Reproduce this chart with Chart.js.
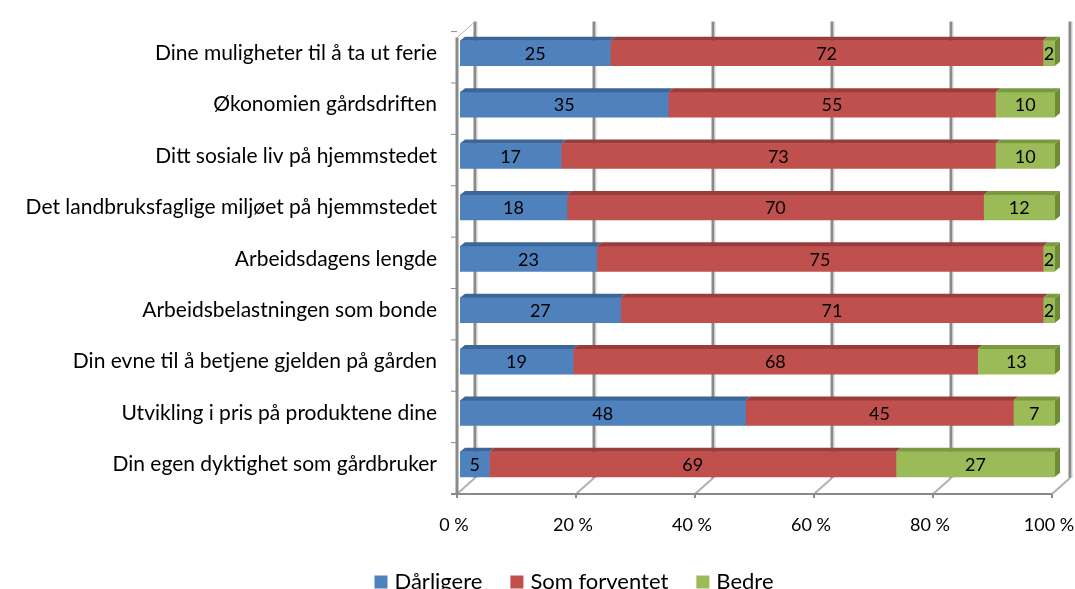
<!DOCTYPE html>
<html>
<head>
<meta charset="utf-8">
<script src="https://cdn.jsdelivr.net/npm/chart.js@4"></script>
<style>
  html, body { margin: 0; padding: 0; background: #fff; }
  #wrap { width: 1075px; height: 589px; position: relative; }
</style>
</head>
<body>
<div id="wrap"><canvas id="chart" width="1075" height="589"></canvas></div>
<script>
const categories = [
  'Dine muligheter til å ta ut ferie',
  'Økonomien gårdsdriften',
  'Ditt sosiale liv på hjemmstedet',
  'Det landbruksfaglige miljøet på hjemmstedet',
  'Arbeidsdagens lengde',
  'Arbeidsbelastningen som bonde',
  'Din evne til å betjene gjelden på gården',
  'Utvikling i pris på produktene dine',
  'Din egen dyktighet som gårdbruker'
];
const seriesNames = ['Dårligere', 'Som forventet', 'Bedre'];
const darligere = [25, 35, 17, 18, 23, 27, 19, 48, 5];
const somForventet = [72, 55, 73, 70, 75, 71, 68, 45, 69];
const bedre = [2, 10, 10, 12, 2, 2, 13, 7, 27];
const xTicks = [0, 20, 40, 60, 80, 100];

const fontFamily = 'Lato, "Open Sans", sans-serif';
const colors = ['#4F81BD', '#C0504D', '#9BBB59'];
const topColors = ['#3B6699', '#9A3D3A', '#7A9A3F'];
const sideColors = ['#37608F', '#8E3836', '#6E8C38'];

// 100% stacking: turn the raw values into shares of each row
const rowTotals = categories.map((c, i) => darligere[i] + somForventet[i] + bedre[i]);
const toShare = arr => arr.map((v, i) => v / rowTotals[i] * 100);
const rawSeries = [darligere, somForventet, bedre];

const DX = 15, DY = -16;   // depth of the back wall
const BX = 5, BY = -4;     // depth of the bars
const FX = -3;             // front axis sits a little left of the bars

const depthPlugin = {
  id: 'depth3d',
  beforeDatasetsDraw(chart) {
    const ctx = chart.ctx;
    const x = chart.scales.x;
    const y = chart.scales.y;
    const area = chart.chartArea;
    const floorY = area.bottom + 4;
    const topY = area.top - 6;
    ctx.save();
    // back wall gridlines + floor diagonals
    xTicks.forEach(t => {
      const px = x.getPixelForValue(t);
      ctx.strokeStyle = '#8a8a8a';
      ctx.lineWidth = 3;
      ctx.beginPath();
      ctx.moveTo(px + DX, topY);
      ctx.lineTo(px + DX, floorY + DY);
      ctx.stroke();
      ctx.strokeStyle = '#d0d0d0';
      ctx.lineWidth = 1;
      ctx.beginPath();
      ctx.moveTo(px + DX + 2, topY);
      ctx.lineTo(px + DX + 2, floorY + DY);
      ctx.stroke();
      ctx.strokeStyle = '#b0b0b0';
      ctx.lineWidth = 2;
      ctx.beginPath();
      ctx.moveTo(px + FX, floorY);
      ctx.lineTo(px + DX, floorY + DY);
      ctx.stroke();
    });
    // left wall
    const lx = x.getPixelForValue(0) + FX;
    ctx.strokeStyle = '#8a8a8a';
    ctx.lineWidth = 3;
    ctx.beginPath();
    ctx.moveTo(lx, topY - DY);
    ctx.lineTo(lx, floorY);
    ctx.stroke();
    ctx.lineWidth = 1;
    ctx.strokeStyle = '#b0b0b0';
    ctx.beginPath();
    ctx.moveTo(lx, topY - DY);
    ctx.lineTo(lx - FX + DX, topY);
    ctx.stroke();
    // category separators on the left wall
    const step = y.getPixelForValue(1) - y.getPixelForValue(0);
    ctx.strokeStyle = '#8a8a8a';
    ctx.lineWidth = 1;
    for (let i = 0; i <= categories.length; i++) {
      const py = y.getPixelForValue(0) - step / 2 + i * step;
      ctx.beginPath();
      ctx.moveTo(lx - 6, py + 4);
      ctx.lineTo(lx, py + 4);
      ctx.stroke();
    }
    // front x axis
    ctx.strokeStyle = '#8a8a8a';
    ctx.lineWidth = 2;
    ctx.beginPath();
    ctx.moveTo(lx - 6, floorY);
    ctx.lineTo(x.getPixelForValue(100) + FX, floorY);
    ctx.stroke();
    xTicks.forEach(t => {
      const px = x.getPixelForValue(t) + FX;
      ctx.beginPath();
      ctx.moveTo(px, floorY);
      ctx.lineTo(px, floorY + 4);
      ctx.stroke();
    });
    ctx.restore();
  },
  afterDatasetsDraw(chart) {
    const ctx = chart.ctx;
    ctx.save();
    chart.data.datasets.forEach((ds, di) => {
      const meta = chart.getDatasetMeta(di);
      meta.data.forEach((bar, i) => {
        const left = Math.min(bar.x, bar.base);
        const right = Math.max(bar.x, bar.base);
        const top = bar.y - bar.height / 2;
        const bottom = bar.y + bar.height / 2;
        // top face
        ctx.fillStyle = topColors[di];
        ctx.beginPath();
        ctx.moveTo(left, top);
        ctx.lineTo(left + BX, top + BY);
        ctx.lineTo(right + BX, top + BY);
        ctx.lineTo(right, top);
        ctx.closePath();
        ctx.fill();
        // side face on the last segment
        if (di === chart.data.datasets.length - 1) {
          ctx.fillStyle = sideColors[di];
          ctx.beginPath();
          ctx.moveTo(right, top);
          ctx.lineTo(right + BX, top + BY);
          ctx.lineTo(right + BX, bottom + BY);
          ctx.lineTo(right, bottom);
          ctx.closePath();
          ctx.fill();
        }
        // value label
        ctx.fillStyle = '#000';
        ctx.font = '18px ' + fontFamily;
        ctx.textAlign = 'center';
        ctx.textBaseline = 'middle';
        ctx.fillText(String(rawSeries[di][i]), (left + right) / 2, bar.y + 1);
      });
    });
    ctx.restore();
  },
  afterDraw(chart) {
    // legend row along the bottom edge
    const ctx = chart.ctx;
    ctx.save();
    ctx.font = '22px ' + fontFamily;
    ctx.textBaseline = 'middle';
    ctx.textAlign = 'left';
    const box = 13, gapText = 7, gapItem = 28;
    const widths = chart.data.datasets.map(ds => ctx.measureText(ds.label).width);
    const total = widths.reduce((a, w) => a + box + gapText + w, 0) + gapItem * (widths.length - 1);
    let cx = 574 - total / 2;
    const cy = 582;
    chart.data.datasets.forEach((ds, i) => {
      ctx.fillStyle = ds.backgroundColor;
      ctx.fillRect(cx, cy - box / 2, box, box);
      ctx.fillStyle = '#000';
      ctx.fillText(ds.label, cx + box + gapText, cy);
      cx += box + gapText + widths[i] + gapItem;
    });
    ctx.restore();
  }
};

new Chart(document.getElementById('chart'), {
  type: 'bar',
  data: {
    labels: categories,
    datasets: seriesNames.map((name, i) => ({
      label: name,
      data: toShare(rawSeries[i]),
      backgroundColor: colors[i],
      borderWidth: 0,
      barThickness: 25
    }))
  },
  options: {
    indexAxis: 'y',
    responsive: false,
    animation: false,
    layout: { padding: { top: 10, right: 0, left: 0, bottom: 0 } },
    scales: {
      x: {
        stacked: true,
        min: 0,
        max: 100,
        afterBuildTicks: s => { s.ticks = xTicks.map(v => ({ value: v })); },
        afterFit: s => { s.height = 99; s.paddingRight = 20; },
        grid: { display: false },
        border: { display: false },
        ticks: {
          callback: v => v + ' %',
          color: '#000',
          padding: 16,
          labelOffset: -6,
          maxRotation: 0,
          font: { family: fontFamily, size: 18 }
        }
      },
      y: {
        stacked: true,
        afterFit: s => { s.width = 460; },
        grid: { display: false },
        border: { display: false },
        ticks: {
          color: '#000',
          padding: 15,
          font: { family: fontFamily, size: 21 }
        }
      }
    },
    plugins: {
      legend: { display: false },
      tooltip: { enabled: false }
    }
  },
  plugins: [depthPlugin]
});
</script>
</body>
</html>
